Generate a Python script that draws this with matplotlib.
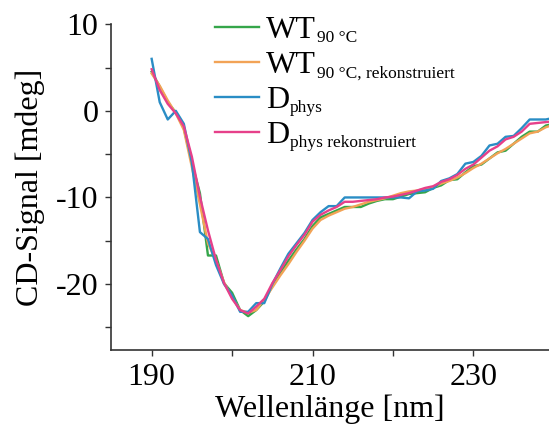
import numpy as np
import matplotlib.pyplot as plt
from matplotlib.ticker import MultipleLocator

plt.rcParams['font.family'] = ['Liberation Serif', 'DejaVu Serif']
plt.rcParams['axes.unicode_minus'] = False

wl = list(range(190, 241))

wt90 = [4.5, 2.8, 1.0, -0.2, -2.0, -6.0, -9.5, -16.7, -16.7, -19.9,
        -21.0, -23.0, -23.7, -23.0, -22.0, -20.2, -18.7, -17.3, -16.0, -14.8,
        -13.3, -12.3, -11.9, -11.5, -11.1, -11.1, -11.1, -10.7, -10.4, -10.2,
        -10.2, -9.9, -9.6, -9.5, -9.4, -8.9, -8.6, -8.0, -7.9, -7.1,
        -6.4, -6.2, -5.5, -4.8, -4.6, -3.8, -3.0, -2.4, -2.4, -1.7, -1.5]
wt90_rek = [4.3, 2.9, 1.2, -0.3, -2.2, -6.5, -10.8, -15.3, -17.3, -19.8,
            -21.5, -23.0, -23.3, -23.0, -21.8, -20.4, -19.0, -17.7, -16.3, -15.0,
            -13.6, -12.6, -12.1, -11.7, -11.3, -11.1, -10.8, -10.5, -10.3, -10.1,
            -9.8, -9.5, -9.3, -9.2, -9.0, -8.8, -8.4, -8.1, -7.7, -7.2,
            -6.6, -6.1, -5.5, -4.9, -4.4, -3.8, -3.2, -2.6, -2.4, -1.9, -1.6]
dphys = [6.0, 1.0, -1.0, 0.0, -1.5, -6.0, -14.0, -14.8, -17.8, -20.0,
         -21.3, -23.2, -23.2, -22.2, -22.2, -20.0, -18.2, -16.5, -15.3, -14.1,
         -12.6, -11.7, -11.0, -11.0, -10.0, -10.0, -10.0, -10.0, -10.0, -10.0,
         -10.0, -10.0, -10.1, -9.3, -9.2, -9.0, -8.1, -7.8, -7.3, -6.1,
         -5.9, -5.2, -4.0, -3.8, -3.0, -2.9, -2.0, -1.0, -1.0, -1.0, -0.8]
dphys_rek = [4.8, 2.4, 0.8, -0.3, -1.8, -5.3, -9.9, -13.8, -17.2, -19.9,
             -21.7, -23.0, -23.4, -22.6, -21.7, -19.9, -18.4, -16.8, -15.5, -14.3,
             -12.8, -12.0, -11.5, -11.1, -10.5, -10.5, -10.4, -10.3, -10.2, -10.0,
             -9.9, -9.7, -9.5, -9.2, -8.9, -8.7, -8.2, -7.9, -7.4, -6.7,
             -6.2, -5.4, -4.6, -4.1, -3.3, -3.0, -2.4, -1.5, -1.4, -1.3, -1.2]

names = ['WT', 'WT', 'D', 'D']
subs = ['90 \u00b0C', '90 \u00b0C, rekonstruiert', 'phys', 'phys rekonstruiert']
colors = ['#35a64a', '#f2a356', '#2a8dc5', '#e6408a']

fig = plt.figure(figsize=(5.49, 4.32), dpi=100)
ax = fig.add_axes([0.203, 0.19, 0.797, 0.754])

for y, c, n in zip([wt90, wt90_rek, dphys, dphys_rek], colors, names):
    ax.plot(wl, y, color=c, lw=1.7, label=n)

ax.set_xlim(185, 239.4)
ax.set_ylim(-27.6, 10)
ax.xaxis.set_major_locator(plt.FixedLocator([190, 210, 230]))
ax.xaxis.set_minor_locator(plt.FixedLocator([200, 220, 240]))
ax.yaxis.set_major_locator(MultipleLocator(10))
ax.yaxis.set_minor_locator(MultipleLocator(5))
for s in ['top', 'right']:
    ax.spines[s].set_visible(False)
for s in ['left', 'bottom']:
    ax.spines[s].set_color('#333333')
    ax.spines[s].set_linewidth(1.2)
ax.tick_params(which='both', length=4.5, width=1, color='#333333', labelsize=23, pad=5)

ax.set_xlabel('Wellenl\u00e4nge [nm]', fontsize=23, labelpad=2)
ax.set_ylabel('CD-Signal [mdeg]', fontsize=23, labelpad=8)

leg = ax.legend(loc='upper left', bbox_to_anchor=(0.237, 1.025), frameon=False,
                fontsize=23, handlelength=1.37, handletextpad=0.22,
                labelspacing=0.17, borderpad=0, borderaxespad=0)

# subscripts next to the legend labels
fig.canvas.draw()
r = fig.canvas.get_renderer()
inv = fig.transFigure.inverted()
for t, s in zip(leg.get_texts(), subs):
    bb = t.get_window_extent(r)
    x0, y0 = inv.transform((bb.x1 + 1, bb.y0 + 3))
    fig.text(x0, y0, s, fontsize=12.5, ha='left', va='baseline')

fig.savefig('out.png', dpi=100)
